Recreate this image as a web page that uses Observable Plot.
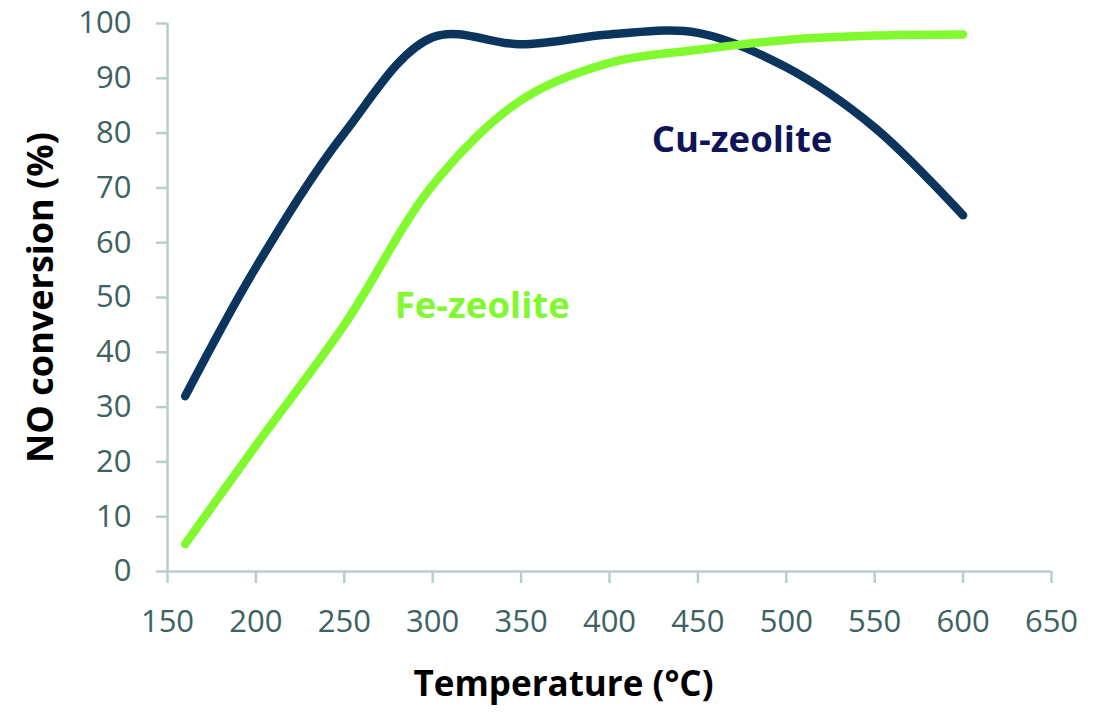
<!DOCTYPE html>
<html>
<head>
<meta charset="utf-8">
<script src="https://cdn.jsdelivr.net/npm/d3@7"></script>
<script src="https://cdn.jsdelivr.net/npm/@observablehq/plot@0.6"></script>
<style>
  html, body { margin: 0; padding: 0; background: #fff; }
  #chart svg { display: block; }
</style>
</head>
<body>
<div id="chart"></div>
<script>
const temperatures = [160, 200, 250, 300, 350, 400, 450, 500, 550, 600];
const cuZeolite = [32, 55.5, 80, 97.5, 96.2, 98, 98.3, 92, 81, 65];
const feZeolite = [5, 23, 45, 70.5, 86, 92.8, 95.2, 97, 97.8, 98];
const xTicks = [150, 200, 250, 300, 350, 400, 450, 500, 550, 600, 650];
const yTicks = [0, 10, 20, 30, 40, 50, 60, 70, 80, 90, 100];
const seriesLabels = [
  {name: "Cu-zeolite", x: 475, y: 76.5},
  {name: "Fe-zeolite", x: 328, y: 46.2}
];

const cuData = temperatures.map((t, i) => ({t, v: cuZeolite[i]}));
const feData = temperatures.map((t, i) => ({t, v: feZeolite[i]}));

const axisColor = "#b9cdcd";
const tickTextColor = "#3d6262";
const cuColor = "#0b355d";
const cuTextColor = "#0f1458";
const feColor = "#80fa2e";

const chart = Plot.plot({
  width: 1110,
  height: 712,
  marginLeft: 167,
  marginRight: 59,
  marginTop: 23,
  marginBottom: 141,
  style: {fontFamily: "'Open Sans', sans-serif", background: "#fff"},
  x: {domain: [150, 650]},
  y: {domain: [0, 100]},
  marks: [
    Plot.ruleY([0], {stroke: axisColor, strokeWidth: 2.5}),
    Plot.ruleX([150], {stroke: axisColor, strokeWidth: 2.5}),
    Plot.axisX({ticks: xTicks, tickSize: 12, tickPadding: 26, fontSize: 31, stroke: axisColor, strokeWidth: 2.5, fill: tickTextColor, label: null, tickFormat: d => String(d)}),
    Plot.axisY({ticks: yTicks, tickSize: 11, tickPadding: 25, fontSize: 31, stroke: axisColor, strokeWidth: 2.5, fill: tickTextColor, label: null, tickFormat: d => String(d)}),
    Plot.line(cuData, {x: "t", y: "v", stroke: cuColor, strokeWidth: 8.5, curve: "catmull-rom", strokeLinecap: "round", strokeLinejoin: "round"}),
    Plot.line(feData, {x: "t", y: "v", stroke: feColor, strokeWidth: 8.5, curve: "catmull-rom", strokeLinecap: "round", strokeLinejoin: "round"}),
    Plot.text([seriesLabels[0]], {x: "x", y: "y", text: "name", fill: cuTextColor, fontSize: 36.5, fontWeight: "bold", lineAnchor: "bottom", textAnchor: "middle"}),
    Plot.text([seriesLabels[1]], {x: "x", y: "y", text: "name", fill: feColor, fontSize: 36.5, fontWeight: "bold", lineAnchor: "bottom", textAnchor: "middle"}),
    Plot.text(["Temperature (°C)"], {frameAnchor: "bottom", dx: -46, dy: 124, text: d => d, fill: "#000", fontSize: 35, fontWeight: "bold", lineAnchor: "bottom", textAnchor: "middle"}),
    Plot.text(["NO conversion (%)"], {frameAnchor: "left", dx: -126, text: d => d, fill: "#000", fontSize: 36, fontWeight: "bold", rotate: -90, lineAnchor: "middle", textAnchor: "middle"})
  ]
});
document.getElementById("chart").appendChild(chart);
</script>
</body>
</html>
